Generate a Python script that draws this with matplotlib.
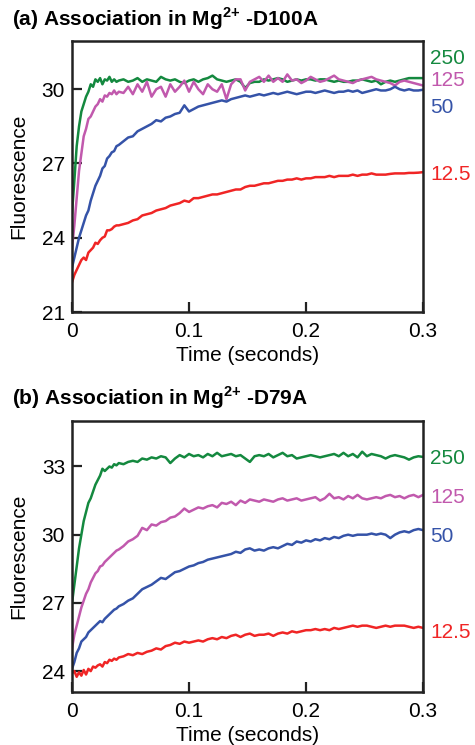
import numpy as np
import matplotlib
matplotlib.use('Agg')
import matplotlib.pyplot as plt
import matplotlib.transforms as mtransforms

plt.rcParams['font.family'] = ['Liberation Sans', 'DejaVu Sans']
plt.rcParams['mathtext.fontset'] = 'custom'
plt.rcParams['mathtext.rm'] = 'Liberation Sans'
plt.rcParams['mathtext.bf'] = 'Liberation Sans:bold'

# sampling grid: 2 ms for the first 40 ms, then 4 ms
time = np.concatenate([np.arange(0, 0.0401, 0.002), np.arange(0.044, 0.3001, 0.004)])

concentrations = ['250', '125', '50', '12.5']
colors = ['#14893f', '#c159ad', '#3553a8', '#f02525']

# (a) Mg2+ -D100A
a_250 = [25.0, 26.3, 27.7, 28.5, 29.1, 29.4, 29.7, 29.9, 30.2, 30.1, 30.4, 30.3, 30.45, 30.2, 30.4, 30.35, 30.5, 30.3, 30.4, 30.3, 30.35,
         30.4, 30.3, 30.35, 30.45, 30.3, 30.4, 30.35, 30.3, 30.5, 30.4,
         30.35, 30.4, 30.3, 30.25, 30.35, 30.4, 30.3, 30.4, 30.45, 30.55,
         30.4, 30.35, 30.3, 30.35, 30.4, 30.3, 30.05, 30.25, 30.3, 30.3,
         30.4, 30.35, 30.4, 30.45, 30.4, 30.3, 30.35, 30.4, 30.35, 30.4,
         30.4, 30.35, 30.4, 30.4, 30.35, 30.3, 30.35, 30.3, 30.3, 30.35,
         30.35, 30.4, 30.35, 30.3, 30.35, 30.2, 30.3, 30.35, 30.3, 30.35,
         30.4, 30.45, 30.45, 30.45, 30.45]
a_125 = [23.6, 24.5, 25.6, 26.7, 27.4, 28.1, 28.4, 28.8, 28.9, 29.1, 29.3, 29.4, 29.6, 29.5, 29.75, 29.7, 29.85, 29.8, 29.95, 29.8, 29.9,
         29.85, 30.1, 29.8, 30.2, 29.9, 30.3, 29.7, 30.0, 30.1, 29.7,
         30.2, 29.9, 30.1, 30.35, 29.9, 30.3, 30.0, 29.8, 30.2, 30.0,
         29.9, 30.2, 29.6, 30.2, 30.4, 30.4, 29.95, 30.3, 30.4, 30.5,
         30.3, 30.55, 30.3, 30.45, 30.3, 30.6, 30.35, 30.4, 30.25, 30.35,
         30.5, 30.4, 30.3, 30.35, 30.45, 30.55, 30.4, 30.35, 30.3, 30.25,
         30.35, 30.4, 30.45, 30.5, 30.4, 30.35, 30.3, 30.25, 30.15, 30.3,
         30.35, 30.3, 30.25, 30.2, 30.15]
a_50 = [22.8, 23.2, 23.6, 24.0, 24.3, 24.6, 24.9, 25.1, 25.5, 25.8, 26.1, 26.3, 26.5, 26.8, 26.9, 27.2, 27.3, 27.45, 27.5, 27.7, 27.75,
        27.9, 28.05, 28.1, 28.3, 28.4, 28.5, 28.6, 28.75, 28.7, 28.85,
        28.9, 29.0, 29.05, 29.35, 29.1, 29.2, 29.3, 29.35, 29.4, 29.45,
        29.5, 29.55, 29.5, 29.6, 29.65, 29.7, 29.75, 29.7, 29.75, 29.8,
        29.75, 29.8, 29.85, 29.8, 29.85, 29.9, 29.85, 29.8, 29.85, 29.9,
        29.9, 29.85, 29.9, 29.95, 29.9, 29.85, 29.9, 29.9, 29.95, 29.9,
        29.95, 29.85, 29.9, 29.95, 30.0, 29.95, 29.95, 30.0, 30.1, 30.0,
        29.95, 30.0, 29.95, 29.95, 29.98]
a_12 = [22.2, 22.5, 22.7, 22.9, 23.1, 23.2, 23.1, 23.4, 23.5, 23.6, 23.8, 23.75, 23.9, 24.0, 24.05, 24.3, 24.3, 24.35, 24.45, 24.5, 24.5,
        24.55, 24.6, 24.7, 24.75, 24.9, 24.95, 25.0, 25.1, 25.15, 25.2,
        25.3, 25.35, 25.4, 25.5, 25.45, 25.6, 25.6, 25.65, 25.7, 25.75,
        25.75, 25.8, 25.85, 25.9, 25.95, 25.95, 26.05, 26.1, 26.1, 26.15,
        26.2, 26.2, 26.25, 26.3, 26.3, 26.35, 26.35, 26.4, 26.35, 26.4,
        26.4, 26.45, 26.45, 26.45, 26.5, 26.45, 26.5, 26.5, 26.5, 26.55,
        26.5, 26.55, 26.55, 26.6, 26.55, 26.55, 26.55, 26.58, 26.6, 26.6,
        26.6, 26.62, 26.62, 26.63, 26.65]

# (b) Mg2+ -D79A
b_250 = [27.0, 27.8, 28.6, 29.4, 30.0, 30.6, 31.0, 31.4, 31.6, 31.9, 32.2, 32.4, 32.6, 32.9, 32.8, 32.9, 33.0, 32.95, 33.1, 33.05, 33.15,
         33.1, 33.2, 33.25, 33.2, 33.35, 33.3, 33.4, 33.35, 33.45, 33.4,
         33.15, 33.35, 33.5, 33.4, 33.55, 33.45, 33.5, 33.4, 33.55, 33.45,
         33.6, 33.45, 33.5, 33.55, 33.45, 33.5, 33.35, 33.2, 33.45, 33.5,
         33.45, 33.55, 33.4, 33.5, 33.6, 33.45, 33.5, 33.35, 33.4, 33.45,
         33.5, 33.45, 33.4, 33.45, 33.5, 33.55, 33.45, 33.6, 33.45, 33.55,
         33.4, 33.65, 33.45, 33.55, 33.5, 33.45, 33.35, 33.45, 33.5, 33.45,
         33.4, 33.3, 33.4, 33.45, 33.42]
b_125 = [25.0, 25.6, 26.0, 26.4, 26.8, 27.1, 27.4, 27.6, 27.9, 28.1, 28.3, 28.4, 28.6, 28.65, 28.8, 28.9, 29.0, 29.1, 29.2, 29.3, 29.35,
         29.5, 29.7, 29.8, 29.95, 30.3, 30.2, 30.45, 30.4, 30.55, 30.6,
         30.75, 30.8, 30.95, 31.15, 31.0, 31.1, 31.2, 31.15, 31.25, 31.3,
         31.2, 31.4, 31.35, 31.45, 31.3, 31.5, 31.4, 31.55, 31.5, 31.45,
         31.55, 31.5, 31.45, 31.55, 31.6, 31.5, 31.55, 31.6, 31.5, 31.55,
         31.6, 31.65, 31.5, 31.6, 31.8, 31.6, 31.65, 31.55, 31.7, 31.6,
         31.75, 31.6, 31.55, 31.6, 31.65, 31.6, 31.7, 31.75, 31.65, 31.7,
         31.6, 31.7, 31.75, 31.65, 31.75]
b_50 = [24.1, 24.4, 24.8, 25.0, 25.3, 25.4, 25.5, 25.7, 25.8, 25.9, 26.0, 26.1, 26.2, 26.15, 26.3, 26.4, 26.5, 26.6, 26.7, 26.75, 26.85,
        26.95, 27.1, 27.2, 27.4, 27.6, 27.7, 27.8, 27.95, 28.1, 28.05,
        28.2, 28.35, 28.4, 28.5, 28.6, 28.65, 28.75, 28.8, 28.9, 28.95,
        29.0, 29.05, 29.1, 29.15, 29.25, 29.2, 29.35, 29.4, 29.3, 29.35,
        29.3, 29.4, 29.45, 29.4, 29.5, 29.6, 29.55, 29.7, 29.65, 29.75,
        29.7, 29.8, 29.75, 29.85, 29.8, 29.9, 29.85, 29.95, 30.0, 29.95,
        30.0, 30.0, 30.0, 30.05, 30.0, 30.05, 30.0, 29.85, 30.0, 30.1,
        30.15, 30.1, 30.2, 30.25, 30.2]
b_12 = [23.9, 24.0, 23.75, 23.95, 23.8, 24.05, 23.85, 24.1, 24.0, 24.2, 24.15, 24.25, 24.3, 24.2, 24.4, 24.35, 24.5, 24.45, 24.55, 24.5, 24.6,
        24.65, 24.75, 24.7, 24.8, 24.75, 24.85, 24.9, 25.0, 24.95, 25.1,
        25.15, 25.25, 25.2, 25.3, 25.25, 25.3, 25.35, 25.3, 25.4, 25.45,
        25.4, 25.5, 25.45, 25.55, 25.6, 25.5, 25.6, 25.65, 25.55, 25.6,
        25.6, 25.65, 25.55, 25.65, 25.7, 25.65, 25.75, 25.7, 25.75, 25.8,
        25.8, 25.85, 25.8, 25.85, 25.8, 25.9, 25.85, 25.9, 25.95, 26.0,
        25.95, 26.0, 26.0, 25.95, 25.9, 25.95, 26.0, 25.95, 26.0, 26.0,
        26.0, 25.95, 25.9, 25.95, 25.9]

panels = [
    dict(title=r'(a) Association in Mg$^{\mathbf{2}\mathbf{{+}}}$ -D100A', series=[a_250, a_125, a_50, a_12],
         label_y=[31.25, 30.36, 29.27, 26.55], ylim=(21, 31.95), yticks=[21, 24, 27, 30]),
    dict(title=r'(b) Association in Mg$^{\mathbf{2}\mathbf{{+}}}$ -D79A', series=[b_250, b_125, b_50, b_12],
         label_y=[33.35, 31.63, 29.9, 25.7], ylim=(23.08, 35.0), yticks=[24, 27, 30, 33]),
]

fig = plt.figure(figsize=(4.75, 7.45), dpi=100)
axes_rects = [[0.1516, 0.5812, 0.7390, 0.3638], [0.1516, 0.0711, 0.7390, 0.3638]]
title_y = [1 - 19 / 745, 1 - 398 / 745]

for p, rect, ty in zip(panels, axes_rects, title_y):
    ax = fig.add_axes(rect)
    for s, c in zip(p['series'], colors):
        ax.plot(time, s, color=c, lw=1.8)
    ax.set_xlim(0, 0.3)
    ax.set_ylim(*p['ylim'])
    ax.set_xticks([0, 0.1, 0.2, 0.3])
    ax.set_xticklabels(['0', '0.1', '0.2', '0.3'])
    ax.set_yticks(p['yticks'])
    ax.tick_params(direction='in', length=7, width=1.6, labelsize=15, pad=5, color='#222222')
    ax.tick_params(axis='x', pad=7)
    for sp in ax.spines.values():
        sp.set_linewidth(1.8)
        sp.set_color('#222222')
    ax.set_xlabel('Time (seconds)', fontsize=15, labelpad=4)
    ax.set_ylabel('Fluorescence', fontsize=15, labelpad=10)
    trans = mtransforms.blended_transform_factory(ax.transAxes, ax.transData)
    for lab, ly, c in zip(concentrations, p['label_y'], colors):
        ax.text(1.02, ly, lab, color=c, fontsize=15, va='center', ha='left', transform=trans)
    fig.text(12 / 475, ty, p['title'], fontsize=15, fontweight='bold', va='center', ha='left')

fig.savefig('out.png', dpi=100)
